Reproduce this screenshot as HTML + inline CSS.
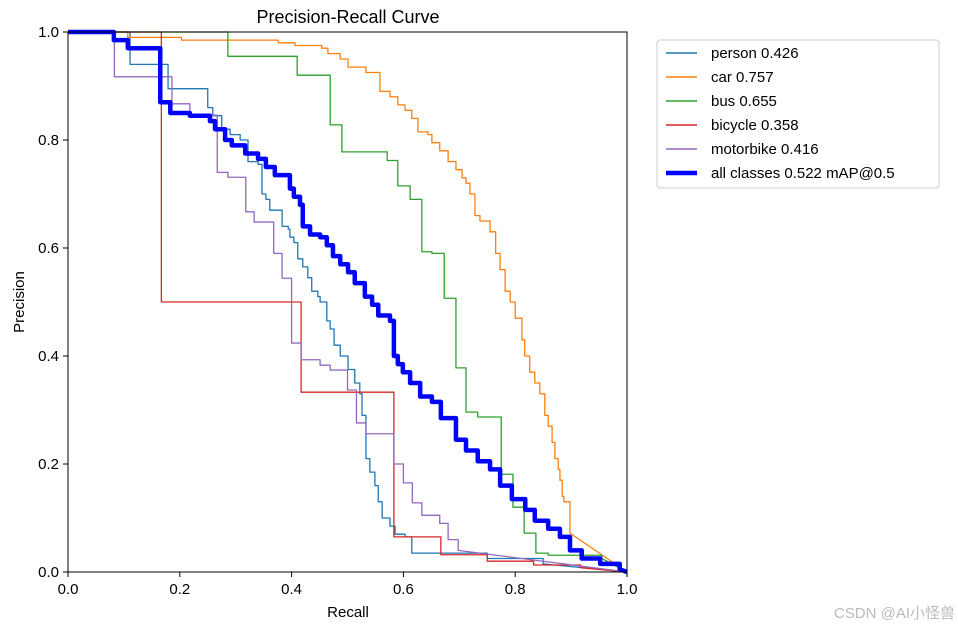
<!DOCTYPE html>
<html><head><meta charset="utf-8"><style>
body{margin:0;background:#fff;}
svg{display:block;font-family:"Liberation Sans","DejaVu Sans","Noto Sans CJK SC",sans-serif;}
</style></head><body>
<svg id="chart" width="958" height="629">
<text x="348" y="23" font-size="18" text-anchor="middle">Precision-Recall Curve</text>
<g id="plot"></g>
<rect x="68" y="32" width="559" height="540" fill="none" stroke="#000" stroke-width="1"/>
<g id="ticks"></g>
<text x="348" y="617" font-size="15" text-anchor="middle">Recall</text>
<text x="24" y="302" font-size="15" text-anchor="middle" transform="rotate(-90 24 302)">Precision</text>
<g>
<rect x="657" y="40" width="282" height="148" rx="3" fill="#fff" stroke="#ccc"/>
<g id="legend"></g>
</g>
<text x="955" y="618" font-size="15" fill="#bbb" text-anchor="end">CSDN @AI小怪兽</text>
</svg>
<script>
const tickValues=[0,0.2,0.4,0.6,0.8,1.0];
const tickLabels=["0.0","0.2","0.4","0.6","0.8","1.0"];
const seriesNames=["person 0.426","car 0.757","bus 0.655","bicycle 0.358","motorbike 0.416","all classes 0.522 mAP@0.5"];
const seriesColors=["#1f77b4","#ff7f0e","#2ca02c","#d62728","#9467bd","#0000ff"];
const personR=[0,0.111,0.179,0.25,0.259,0.275,0.29,0.308,0.322,0.34,0.347,0.354,0.361,0.383,0.394,0.397,0.404,0.411,0.42,0.429,0.436,0.447,0.451,0.463,0.469,0.476,0.487,0.501,0.513,0.522,0.526,0.533,0.54,0.549,0.555,0.562,0.576,0.585,0.603,0.615,0.75,0.85,1];
const personP=[1,0.94,0.895,0.86,0.845,0.82,0.81,0.8,0.76,0.755,0.7,0.69,0.67,0.64,0.635,0.62,0.61,0.58,0.565,0.545,0.52,0.51,0.5,0.465,0.45,0.42,0.4,0.375,0.35,0.33,0.29,0.21,0.185,0.16,0.13,0.1,0.085,0.07,0.065,0.035,0.025,0.015,0];
const carR=[0,0.107,0.203,0.376,0.406,0.454,0.465,0.487,0.501,0.533,0.558,0.576,0.59,0.603,0.615,0.626,0.644,0.651,0.665,0.68,0.694,0.705,0.712,0.719,0.728,0.737,0.755,0.765,0.773,0.782,0.791,0.8,0.812,0.817,0.826,0.835,0.844,0.853,0.859,0.866,0.871,0.877,0.88,0.884,0.887,0.898,1];
const carP=[1,0.99,0.985,0.98,0.975,0.97,0.96,0.95,0.935,0.925,0.89,0.88,0.865,0.855,0.84,0.815,0.81,0.795,0.78,0.76,0.745,0.73,0.72,0.7,0.66,0.65,0.63,0.59,0.56,0.52,0.5,0.47,0.43,0.4,0.37,0.35,0.33,0.29,0.27,0.24,0.21,0.19,0.17,0.14,0.13,0.072,0];
const busR=[0,0.286,0.41,0.469,0.49,0.571,0.59,0.612,0.633,0.651,0.673,0.694,0.712,0.733,0.775,0.796,0.816,0.837,0.859,0.955,1];
const busP=[1,0.955,0.92,0.828,0.778,0.762,0.715,0.69,0.593,0.59,0.507,0.378,0.296,0.287,0.181,0.12,0.072,0.035,0.031,0.025,0];
const bicycleR=[0,0.167,0.417,0.583,0.667,0.75,0.833,0.917,1];
const bicycleP=[1,0.5,0.333,0.065,0.032,0.02,0.013,0.008,0];
const motorR=[0,0.083,0.186,0.218,0.267,0.286,0.318,0.333,0.368,0.383,0.4,0.417,0.451,0.469,0.5,0.516,0.533,0.583,0.6,0.616,0.633,0.665,0.68,0.698,1];
const motorP=[1,0.917,0.867,0.846,0.74,0.731,0.667,0.648,0.59,0.544,0.424,0.393,0.383,0.374,0.337,0.276,0.256,0.2,0.165,0.128,0.105,0.09,0.06,0.04,0];
const allR=[0,0.082,0.107,0.165,0.183,0.218,0.254,0.263,0.281,0.293,0.317,0.34,0.354,0.37,0.397,0.404,0.415,0.42,0.433,0.451,0.463,0.474,0.487,0.501,0.513,0.531,0.544,0.555,0.576,0.583,0.59,0.599,0.612,0.63,0.651,0.667,0.694,0.712,0.733,0.755,0.773,0.794,0.818,0.835,0.859,0.88,0.898,0.919,0.952,0.987,1];
const allP=[1,0.985,0.97,0.87,0.85,0.845,0.835,0.82,0.8,0.79,0.775,0.765,0.75,0.735,0.71,0.695,0.68,0.64,0.625,0.62,0.605,0.585,0.57,0.555,0.535,0.51,0.495,0.475,0.465,0.4,0.385,0.37,0.35,0.325,0.315,0.285,0.245,0.225,0.205,0.19,0.16,0.135,0.115,0.095,0.08,0.065,0.04,0.025,0.015,0.005,0];

const X0=68,X1=627,Y0=572,Y1=32;
const sx=v=>X0+v*(X1-X0);
const sy=v=>Y0-v*(Y0-Y1);
const NS="http://www.w3.org/2000/svg";
const plot=document.getElementById('plot');
const series=[[personR,personP],[carR,carP],[busR,busP],[bicycleR,bicycleP],[motorR,motorP],[allR,allP]];
const sNames=['person-curve','car-curve','bus-curve','bicycle-curve','motorbike-curve','all-classes-curve'];
series.forEach((s,k)=>{
  const R=s[0],P=s[1];let d='M'+sx(R[0])+' '+sy(P[0]);
  for(let i=1;i<R.length;i++){
    if(i===R.length-1){d+=' L'+sx(R[i])+' '+sy(P[i]);}
    else{d+=' L'+sx(R[i])+' '+sy(P[i-1])+' L'+sx(R[i])+' '+sy(P[i]);}
  }
  const p=document.createElementNS(NS,'path');
  p.setAttribute('d',d);p.setAttribute('fill','none');
  p.setAttribute('stroke',seriesColors[k]);
  p.setAttribute('stroke-width',k===5?4.5:1.3);
  p.setAttribute('stroke-linejoin','round');
  
  
  plot.appendChild(p);
});
const ticks=document.getElementById('ticks');
tickValues.forEach((v,i)=>{
  const lx=document.createElementNS(NS,'line');
  lx.setAttribute('x1',sx(v));lx.setAttribute('x2',sx(v));lx.setAttribute('y1',Y0);lx.setAttribute('y2',Y0+5);lx.setAttribute('stroke','#000');
  
  
  ticks.appendChild(lx);
  const tx=document.createElementNS(NS,'text');
  tx.setAttribute('x',sx(v));tx.setAttribute('y',Y0+22);tx.setAttribute('font-size','15');tx.setAttribute('text-anchor','middle');tx.textContent=tickLabels[i];
  
  
  ticks.appendChild(tx);
  const ly=document.createElementNS(NS,'line');
  ly.setAttribute('x1',X0-5);ly.setAttribute('x2',X0);ly.setAttribute('y1',sy(v));ly.setAttribute('y2',sy(v));ly.setAttribute('stroke','#000');
  
  
  ticks.appendChild(ly);
  const ty=document.createElementNS(NS,'text');
  ty.setAttribute('x',X0-9);ty.setAttribute('y',sy(v)+5);ty.setAttribute('font-size','15');ty.setAttribute('text-anchor','end');ty.textContent=tickLabels[i];
  
  
  ticks.appendChild(ty);
});
const leg=document.getElementById('legend');
seriesNames.forEach((n,k)=>{
  const y=53+k*24;
  const l=document.createElementNS(NS,'line');
  l.setAttribute('x1',666);l.setAttribute('x2',697);l.setAttribute('y1',y);l.setAttribute('y2',y);
  l.setAttribute('stroke',seriesColors[k]);l.setAttribute('stroke-width',k===5?4.5:1.5);
  
  
  leg.appendChild(l);
  const t=document.createElementNS(NS,'text');
  t.setAttribute('x',711);t.setAttribute('y',y+5);t.setAttribute('font-size','15');t.textContent=n;
  
  
  leg.appendChild(t);
});
</script>
</body></html>
